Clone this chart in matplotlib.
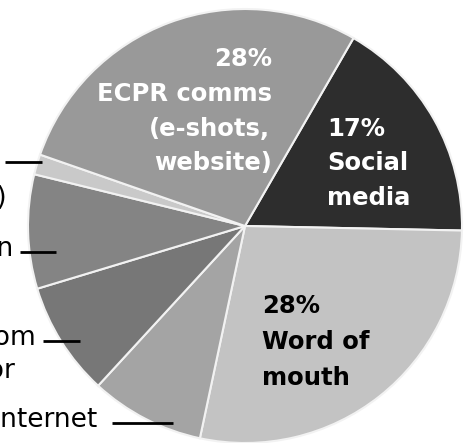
import matplotlib.pyplot as plt

plt.rcParams['font.family'] = ['DejaVu Sans']

# slices, clockwise from the top-right boundary
labels = ['Social media', 'Word of mouth', 'Internet', 'Recommendation',
          'Email invitation', 'Other', 'ECPR comms (e-shots, website)']
shares = [17, 28, 8.5, 8.5, 8.5, 1.5, 28]
colors = ['#2d2d2d', '#c3c3c3', '#a4a4a4', '#777777', '#848484', '#c9c9c9', '#999999']

W, H = 472, 443
fig = plt.figure(figsize=(W / 100, H / 100), dpi=100)
ax = fig.add_axes([0, 0, 1, 1])

cx, cy, r = 245, H - 226, 217
ax.pie(shares, colors=colors, startangle=60, counterclock=False,
       center=(cx, cy), radius=r, frame=True,
       wedgeprops=dict(edgecolor='#f2f2f2', linewidth=1.5))
ax.set_xlim(0, W)
ax.set_ylim(0, H)
ax.axis('off')


def put(x, ytop, s, size=17.5, **kw):
    ax.text(x, H - ytop, s, va='baseline', fontsize=size, **kw)


# labels inside the pie
put(272, 66, '28%', ha='right', color='white', fontweight='bold')
put(272, 101, 'ECPR comms', ha='right', color='white', fontweight='bold')
put(270, 136, '(e-shots,', ha='right', color='white', fontweight='bold')
put(272, 170, 'website)', ha='right', color='white', fontweight='bold')

put(327, 136, '17%', ha='left', color='white', fontweight='bold')
put(327, 170, 'Social', ha='left', color='white', fontweight='bold')
put(327, 205, 'media', ha='left', color='white', fontweight='bold')

put(262, 313, '28%', ha='left', color='black', fontweight='bold')
put(262, 349, 'Word of', ha='left', color='black', fontweight='bold')
put(262, 385, 'mouth', ha='left', color='black', fontweight='bold')

# labels outside the pie (cut off by the left edge)
put(-3, 168, '1% Other', ha='right', color='black', size=19)
put(7, 205, '(please specify)', ha='right', color='black', size=19)
put(13, 256, '9% Email invitation', ha='right', color='black', size=19)
put(36, 345, '9% Recommendation from', ha='right', color='black', size=19)
put(15, 378, 'colleague or supervisor', ha='right', color='black', size=19)
put(97, 427, '8% Internet', ha='right', color='black', size=19)

for x0, x1, y in [(5, 42, 162), (20, 56, 252), (43, 80, 341), (112, 173, 423)]:
    ax.plot([x0, x1], [H - y, H - y], color='black', lw=2, solid_capstyle='butt')

fig.savefig('out.png', dpi=100)
